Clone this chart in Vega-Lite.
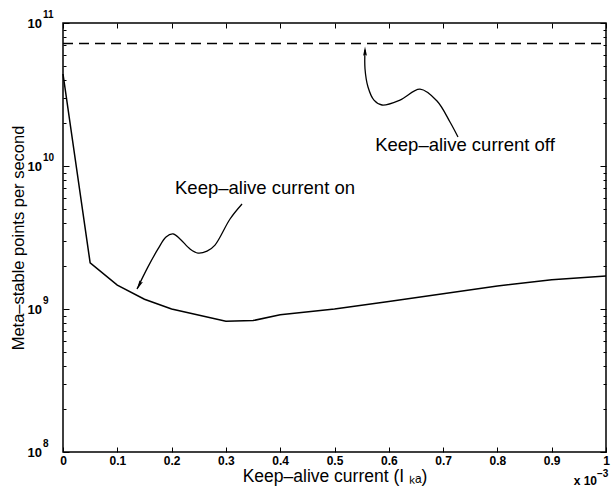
{
  "$schema": "https://vega.github.io/schema/vega-lite/v6.json",
  "width": 543,
  "height": 429,
  "autosize": "none",
  "padding": {"left": 63, "top": 23, "right": 7, "bottom": 38},
  "background": "white",
  "config": {
    "view": {"stroke": "black", "strokeWidth": 1.5},
    "font": "Liberation Sans",
    "axis": {
      "grid": false,
      "domain": false,
      "ticks": true,
      "tickColor": "black",
      "tickWidth": 1,
      "labelColor": "black",
      "labelFont": "Liberation Sans",
      "labelFontWeight": "bold",
      "labelFontSize": 12,
      "titleColor": "black",
      "titleFont": "Liberation Sans",
      "titleFontWeight": "normal",
      "zindex": 2
    }
  },
  "datasets": {
    "off": [{"x": 0, "y": 72000000000}, {"x": 1, "y": 72000000000}],
    "on": [
      {"x": 0, "y": 44000000000},
      {"x": 0.05, "y": 2100000000},
      {"x": 0.1, "y": 1470000000},
      {"x": 0.15, "y": 1170000000},
      {"x": 0.2, "y": 1000000000},
      {"x": 0.3, "y": 820000000},
      {"x": 0.35, "y": 830000000},
      {"x": 0.4, "y": 910000000},
      {"x": 0.5, "y": 1000000000},
      {"x": 0.6, "y": 1130000000},
      {"x": 0.7, "y": 1280000000},
      {"x": 0.8, "y": 1450000000},
      {"x": 0.9, "y": 1600000000},
      {"x": 1, "y": 1700000000}
    ],
    "arrows": [
      {"id": "on", "i": 0, "x": 0.3297, "y": 5420000000},
      {"id": "on", "i": 1, "x": 0.3076, "y": 4260000000},
      {"id": "on", "i": 2, "x": 0.2799, "y": 2800000000},
      {"id": "on", "i": 3, "x": 0.2652, "y": 2540000000},
      {"id": "on", "i": 4, "x": 0.2486, "y": 2460000000},
      {"id": "on", "i": 5, "x": 0.2339, "y": 2630000000},
      {"id": "on", "i": 6, "x": 0.2155, "y": 3090000000},
      {"id": "on", "i": 7, "x": 0.2026, "y": 3350000000},
      {"id": "on", "i": 8, "x": 0.1897, "y": 3190000000},
      {"id": "on", "i": 9, "x": 0.175, "y": 2630000000},
      {"id": "on", "i": 10, "x": 0.1565, "y": 1970000000},
      {"id": "on", "i": 11, "x": 0.1363, "y": 1380000000},
      {"id": "off", "i": 0, "x": 0.7274, "y": 15950000000},
      {"id": "off", "i": 1, "x": 0.7127, "y": 20300000000},
      {"id": "off", "i": 2, "x": 0.6888, "y": 28500000000},
      {"id": "off", "i": 3, "x": 0.6575, "y": 34500000000},
      {"id": "off", "i": 4, "x": 0.6206, "y": 28900000000},
      {"id": "off", "i": 5, "x": 0.5875, "y": 26700000000},
      {"id": "off", "i": 6, "x": 0.5727, "y": 28900000000},
      {"id": "off", "i": 7, "x": 0.5617, "y": 35700000000},
      {"id": "off", "i": 8, "x": 0.5562, "y": 47700000000},
      {"id": "off", "i": 9, "x": 0.5562, "y": 65000000000}
    ],
    "heads": [
      {"x": 0.1409, "y": 1480000000, "angle": 206},
      {"x": 0.5562, "y": 62700000000, "angle": 0}
    ],
    "labels": [
      {"x": 0.372, "y": 7000000000, "t": "Keep–alive current on"},
      {"x": 0.7403, "y": 14000000000, "t": "Keep–alive current off"}
    ],
    "ylab": [
      {"y": 100000000, "e": "8"},
      {"y": 1000000000, "e": "9"},
      {"y": 10000000000, "e": "10"},
      {"y": 100000000000, "e": "11"}
    ],
    "mult": [{"x": 1, "y": 62700000, "b": "x 10", "e": "−3"}]
  },
  "resolve": {"axis": {"x": "independent", "y": "independent"}},
  "layer": [
    {
      "data": {"name": "off"},
      "mark": {"type": "line", "color": "black", "strokeWidth": 1.5, "strokeDash": [10, 6]},
      "encoding": {
        "x": {
          "field": "x", "type": "quantitative",
          "scale": {"domain": [0, 1], "nice": false, "zero": false},
          "axis": {
            "orient": "bottom",
            "tickSize": -5,
            "values": [0, 0.1, 0.2, 0.3, 0.4, 0.5, 0.6, 0.7, 0.8, 0.9, 1],
            "labelExpr": "datum.value == 0 ? '0' : datum.value == 1 ? '1' : format(datum.value, '.1f')",
            "labelPadding": 8,
            "labelFlush": false,
            "title": "Keep–alive current (I ₖₐ)",
            "titleFontSize": 17.5,
            "titlePadding": 1
          }
        },
        "y": {
          "field": "y", "type": "quantitative",
          "scale": {"type": "log", "domain": [100000000, 100000000000], "nice": false},
          "axis": {
            "orient": "left",
            "tickSize": {"condition": {"test": "abs(log(datum.value)/LN10 - round(log(datum.value)/LN10)) < 0.001", "value": -6}, "value": -3},
            "values": [100000000, 200000000, 300000000, 400000000, 500000000, 600000000, 700000000, 800000000, 900000000,
                       1000000000, 2000000000, 3000000000, 4000000000, 5000000000, 6000000000, 7000000000, 8000000000, 9000000000,
                       10000000000, 20000000000, 30000000000, 40000000000, 50000000000, 60000000000, 70000000000, 80000000000, 90000000000,
                       100000000000],
            "labels": false,
            "title": "Meta–stable points per second",
            "titleFontSize": 16.5,
            "titlePadding": 36
          }
        }
      }
    },
    {
      "data": {"name": "off"},
      "mark": {"type": "line", "strokeOpacity": 0},
      "encoding": {
        "x": {
          "field": "x", "type": "quantitative",
          "axis": {"orient": "top", "tickSize": -5, "values": [0, 0.1, 0.2, 0.3, 0.4, 0.5, 0.6, 0.7, 0.8, 0.9, 1], "labels": false, "title": null}
        },
        "y": {
          "field": "y", "type": "quantitative",
          "axis": {
            "orient": "right",
            "tickSize": {"condition": {"test": "abs(log(datum.value)/LN10 - round(log(datum.value)/LN10)) < 0.001", "value": -6}, "value": -3},
            "values": [100000000, 200000000, 300000000, 400000000, 500000000, 600000000, 700000000, 800000000, 900000000,
                       1000000000, 2000000000, 3000000000, 4000000000, 5000000000, 6000000000, 7000000000, 8000000000, 9000000000,
                       10000000000, 20000000000, 30000000000, 40000000000, 50000000000, 60000000000, 70000000000, 80000000000, 90000000000,
                       100000000000],
            "labels": false, "title": null
          }
        }
      }
    },
    {
      "data": {"name": "on"},
      "mark": {"type": "line", "color": "black", "strokeWidth": 1.5},
      "encoding": {
        "x": {"field": "x", "type": "quantitative", "axis": null},
        "y": {"field": "y", "type": "quantitative", "axis": null}
      }
    },
    {
      "data": {"name": "arrows"},
      "mark": {"type": "line", "color": "black", "strokeWidth": 1.3, "interpolate": "catmull-rom"},
      "encoding": {
        "x": {"field": "x", "type": "quantitative", "axis": null},
        "y": {"field": "y", "type": "quantitative", "axis": null},
        "detail": {"field": "id"},
        "order": {"field": "i", "type": "quantitative"}
      }
    },
    {
      "data": {"name": "heads"},
      "mark": {"type": "point", "shape": "M0,-1L-0.35,0.7L0,0.45L0.35,0.7Z", "filled": true, "color": "black", "opacity": 1, "size": 120},
      "encoding": {
        "x": {"field": "x", "type": "quantitative", "axis": null},
        "y": {"field": "y", "type": "quantitative", "axis": null},
        "angle": {"field": "angle", "type": "quantitative", "scale": null}
      }
    },
    {
      "data": {"name": "labels"},
      "mark": {"type": "text", "fontSize": 18.5, "font": "Liberation Sans", "color": "black", "align": "center", "baseline": "middle"},
      "encoding": {
        "x": {"field": "x", "type": "quantitative", "axis": null},
        "y": {"field": "y", "type": "quantitative", "axis": null},
        "text": {"field": "t"}
      }
    },
    {
      "data": {"name": "ylab"},
      "mark": {"type": "text", "fontSize": 13, "fontWeight": "bold", "font": "Liberation Sans", "color": "black", "align": "right", "baseline": "middle", "dx": -21, "dy": 1},
      "encoding": {
        "x": {"datum": 0, "type": "quantitative", "axis": null},
        "y": {"field": "y", "type": "quantitative", "axis": null},
        "text": {"value": "10"}
      }
    },
    {
      "data": {"name": "ylab"},
      "mark": {"type": "text", "fontSize": 10, "fontWeight": "bold", "font": "Liberation Sans", "color": "black", "align": "left", "baseline": "middle", "dx": -20, "dy": -8},
      "encoding": {
        "x": {"datum": 0, "type": "quantitative", "axis": null},
        "y": {"field": "y", "type": "quantitative", "axis": null},
        "text": {"field": "e"}
      }
    },
    {
      "data": {"name": "mult"},
      "mark": {"type": "text", "fontSize": 12, "fontWeight": "bold", "font": "Liberation Sans", "color": "black", "align": "right", "baseline": "middle", "dx": -9},
      "encoding": {
        "x": {"field": "x", "type": "quantitative", "axis": null},
        "y": {"field": "y", "type": "quantitative", "axis": null},
        "text": {"field": "b"}
      }
    },
    {
      "data": {"name": "mult"},
      "mark": {"type": "text", "fontSize": 10, "fontWeight": "bold", "font": "Liberation Sans", "color": "black", "align": "left", "baseline": "middle", "dx": -9, "dy": -7},
      "encoding": {
        "x": {"field": "x", "type": "quantitative", "axis": null},
        "y": {"field": "y", "type": "quantitative", "axis": null},
        "text": {"field": "e"}
      }
    }
  ]
}
